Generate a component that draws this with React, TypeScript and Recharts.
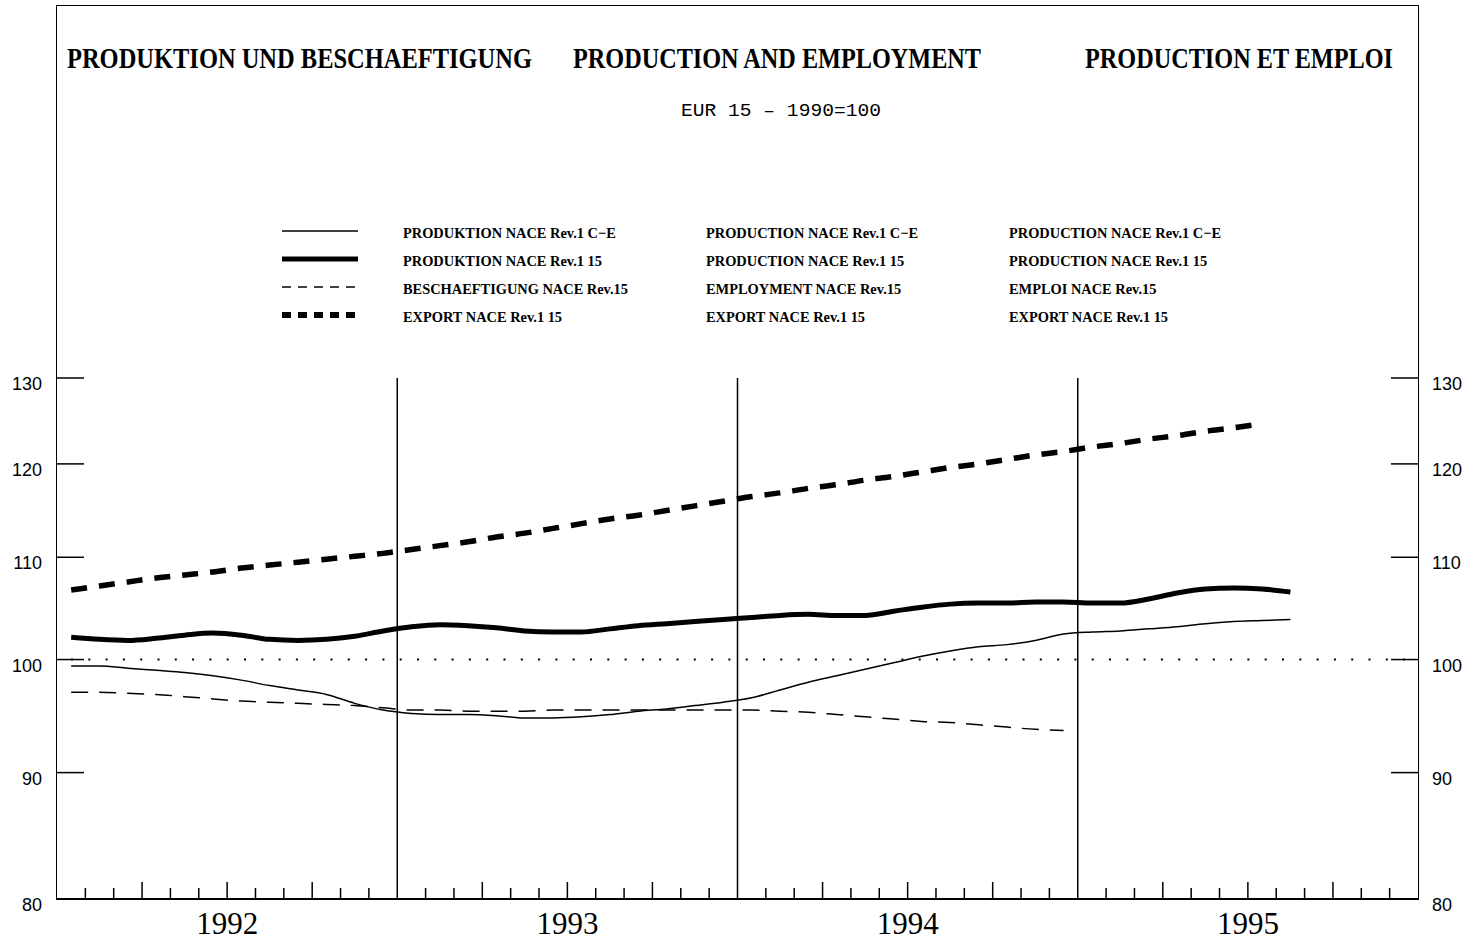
import React from 'react';
import { LineChart, Line, XAxis, YAxis, ReferenceLine } from 'recharts';

// monthly index values, EUR 15, 1990=100, starting January 1992
const years = ['1992', '1993', '1994', '1995'];
const yTicks = [80, 90, 100, 110, 120, 130];
const yearBreaks = [12, 24, 36];

const prodCE = [
  99.4, 99.4, 99.2, 99.0, 98.8, 98.5, 98.1, 97.6, 97.2, 96.8, 96.0, 95.4,
  95.1, 95.0, 95.0, 94.9, 94.7, 94.7, 94.8, 95.0, 95.3, 95.5, 95.8, 96.1,
  96.5, 97.2, 97.9, 98.5, 99.1, 99.7, 100.3, 100.8, 101.2, 101.4, 101.8, 102.4,
  102.6, 102.7, 102.9, 103.1, 103.4, 103.6, 103.7, 103.8,
];
const prod15 = [
  102.1, 101.9, 101.8, 102.0, 102.3, 102.5, 102.3, 101.9, 101.8, 101.9, 102.2, 102.7,
  103.1, 103.3, 103.2, 103.0, 102.7, 102.6, 102.6, 102.9, 103.2, 103.4, 103.6, 103.8,
  104.0, 104.2, 104.3, 104.2, 104.2, 104.6, 105.0, 105.3, 105.4, 105.4, 105.5, 105.5,
  105.4, 105.4, 105.8, 106.4, 106.8, 106.9, 106.8, 106.5,
];
const employment = [
  97.0, 97.0, 96.9, 96.8, 96.6, 96.4, 96.2, 96.1, 96.0, 95.9, 95.8, 95.6,
  95.4, 95.4, 95.3, 95.3, 95.3, 95.4, 95.4, 95.4, 95.4, 95.4, 95.4, 95.4,
  95.4, 95.3, 95.2, 95.0, 94.8, 94.6, 94.4, 94.3, 94.1, 93.9, 93.7, 93.6,
];
const exportVals = [
  106.7, 107.1, 107.5, 107.9, 108.2, 108.5, 108.9, 109.2, 109.5, 109.8, 110.1, 110.4,
  110.8, 111.2, 111.6, 112.1, 112.5, 113.0, 113.5, 114.0, 114.4, 114.9, 115.4, 115.9,
  116.4, 116.8, 117.3, 117.7, 118.2, 118.6, 119.1, 119.6, 120.0, 120.5, 121.0, 121.4,
  121.9, 122.3, 122.8, 123.2, 123.7, 124.1, 124.6,
];

const legendDE = ['PRODUKTION NACE Rev.1 C\u2212E', 'PRODUKTION NACE Rev.1 15', 'BESCHAEFTIGUNG NACE Rev.15', 'EXPORT NACE Rev.1 15'];
const legendEN = ['PRODUCTION NACE Rev.1 C\u2212E', 'PRODUCTION NACE Rev.1 15', 'EMPLOYMENT NACE Rev.15', 'EXPORT NACE Rev.1 15'];
const legendFR = ['PRODUCTION NACE Rev.1 C\u2212E', 'PRODUCTION NACE Rev.1 15', 'EMPLOI NACE Rev.15', 'EXPORT NACE Rev.1 15'];

const monthTicks = Array.from({ length: 49 }, (_, i) => i);

const data = prodCE.map((v, i) => ({
  m: i + 0.5,
  ce: v,
  p15: prod15[i],
  emp: employment[i],
  exp: exportVals[i],
}));

const SERIF = '"Liberation Serif", "DejaVu Serif", serif';
const SANS = '"Liberation Sans", Arial, sans-serif';

const legendStyles = [
  { w: 1.5, dash: undefined },
  { w: 5, dash: undefined },
  { w: 1.5, dash: '9 7' },
  { w: 6, dash: '9 7' },
];

const LeftTick = (props: any) => {
  const { x, y, payload } = props;
  const ax = x + 15;
  return (
    <g>
      {payload.value !== 80 && (
        <line x1={ax} x2={ax + 27} y1={y} y2={y} stroke="#000" strokeWidth={1.5} />
      )}
      <text x={x} y={y + 12} textAnchor="end" fontFamily={SANS} fontSize={18} fill="#000">
        {payload.value}
      </text>
    </g>
  );
};

const RightTick = (props: any) => {
  const { x, y, payload } = props;
  const ax = x - 14;
  return (
    <g>
      {payload.value !== 80 && (
        <line x1={ax - 27} x2={ax} y1={y} y2={y} stroke="#000" strokeWidth={1.5} />
      )}
      <text x={x} y={y + 12} textAnchor="start" fontFamily={SANS} fontSize={18} fill="#000">
        {payload.value}
      </text>
    </g>
  );
};

const MonthTick = (props: any) => {
  const { x, y, payload } = props;
  const m = payload.value as number;
  const showLine = m > 0 && m < 48 && m % 12 !== 0;
  const h = m % 3 === 0 ? 17 : 11;
  return (
    <g>
      {showLine && <line x1={x} x2={x} y1={y} y2={y - h} stroke="#000" strokeWidth={1.5} />}
      {m % 12 === 6 && (
        <text x={x} y={y + 35} textAnchor="middle" fontFamily={SERIF} fontSize={31} fill="#000">
          {years[Math.floor(m / 12)]}
        </text>
      )}
    </g>
  );
};

function Header() {
  const rows = [233, 261, 289, 317];
  return (
    <svg width={1467} height={370} style={{ position: 'absolute', left: 0, top: 0 }}>
      <g fontFamily={SERIF} fontWeight="bold" fontSize={29}>
        <text x={67} y={68} textLength={465} lengthAdjust="spacingAndGlyphs">PRODUKTION UND BESCHAEFTIGUNG</text>
        <text x={573} y={68} textLength={408} lengthAdjust="spacingAndGlyphs">PRODUCTION AND EMPLOYMENT</text>
        <text x={1085} y={68} textLength={308} lengthAdjust="spacingAndGlyphs">PRODUCTION ET EMPLOI</text>
      </g>
      <text x={681} y={116} fontFamily='"Liberation Mono", monospace' fontSize={19} textLength={200} lengthAdjust="spacingAndGlyphs">
        EUR 15 {'\u2013'} 1990=100
      </text>
      {rows.map((ry, i) => (
        <g key={i}>
          <line x1={282} x2={358} y1={ry - 2} y2={ry - 2} stroke="#000"
            strokeWidth={legendStyles[i].w} strokeDasharray={legendStyles[i].dash} />
          {[legendDE, legendEN, legendFR].map((col, c) => (
            <text key={c} transform={`translate(${[403, 706, 1009][c]},${ry + 5}) scale(0.96,1)`}
              fontFamily={SERIF} fontWeight="bold" fontSize={15} fill="#000">
              {col[i]}
            </text>
          ))}
        </g>
      ))}
    </svg>
  );
}

export default function App() {
  return (
    <div style={{ position: 'absolute', left: 0, top: 0, width: 1467, height: 940, background: '#fff' }}>
      <div style={{ position: 'absolute', left: 56, top: 5, width: 1361, height: 893, border: '1.5px solid #000' }} />
      <Header />
      <div style={{ position: 'absolute', left: 0, top: 0 }}>
        <LineChart width={1467} height={940} data={data} margin={{ top: 378, right: 0, bottom: 0, left: 0 }}>
          <XAxis
            dataKey="m"
            type="number"
            domain={[0, 48]}
            ticks={monthTicks}
            interval={0}
            height={41}
            tickSize={0}
            tickMargin={0}
            axisLine={{ stroke: '#000', strokeWidth: 2 }}
            tick={<MonthTick />}
          />
          <YAxis
            yAxisId="l"
            type="number"
            scale="log"
            domain={[80, 130]}
            allowDataOverflow
            ticks={yTicks}
            interval={0}
            width={57}
            tickSize={0}
            tickMargin={15}
            axisLine={false}
            tick={<LeftTick />}
          />
          <YAxis
            yAxisId="r"
            orientation="right"
            type="number"
            scale="log"
            domain={[80, 130]}
            allowDataOverflow
            ticks={yTicks}
            interval={0}
            width={49}
            tickSize={0}
            tickMargin={14}
            axisLine={false}
            tick={<RightTick />}
          />
          {yearBreaks.map((b) => (
            <ReferenceLine key={b} x={b} yAxisId="l" stroke="#000" strokeWidth={1.5} />
          ))}
          <ReferenceLine y={100} yAxisId="l" stroke="#000" strokeWidth={2} strokeDasharray="2 15.3" strokeDashoffset={-14} />
          <Line yAxisId="l" type="monotone" dataKey="ce" stroke="#000" strokeWidth={1.5} dot={false} activeDot={false} isAnimationActive={false} />
          <Line yAxisId="l" type="monotone" dataKey="p15" stroke="#000" strokeWidth={5} dot={false} activeDot={false} isAnimationActive={false} />
          <Line yAxisId="l" type="monotone" dataKey="emp" stroke="#000" strokeWidth={1.5} strokeDasharray="17 11" dot={false} activeDot={false} isAnimationActive={false} />
          <Line yAxisId="l" type="monotone" dataKey="exp" stroke="#000" strokeWidth={5.5} strokeDasharray="16 12" dot={false} activeDot={false} isAnimationActive={false} />
        </LineChart>
      </div>
    </div>
  );
}
